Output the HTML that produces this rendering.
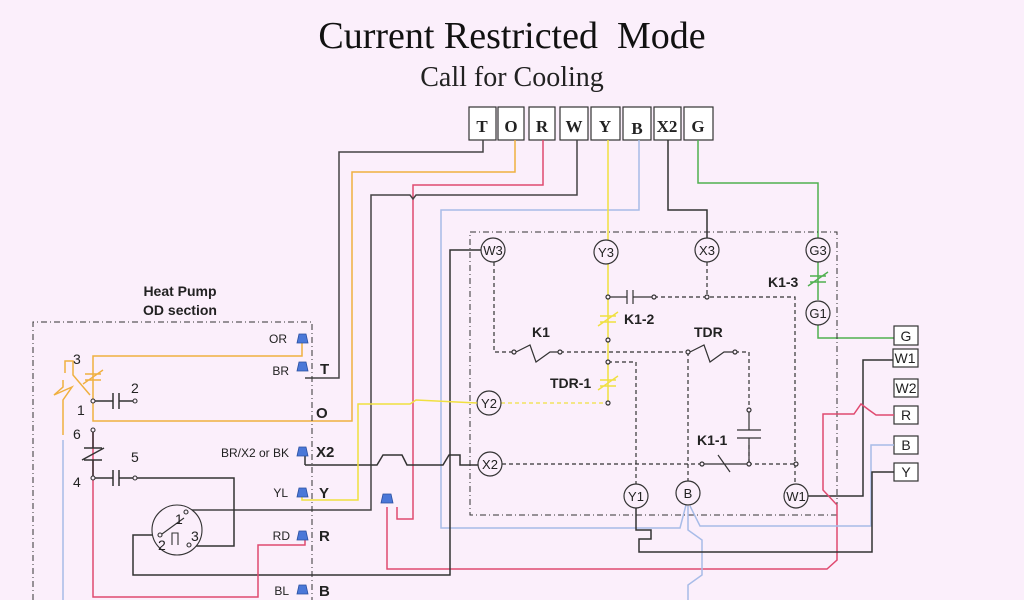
<!DOCTYPE html>
<html><head><meta charset="utf-8"><style>
html,body{margin:0;padding:0;background:#fbeffb;}
svg{display:block}
text{font-family:"Liberation Sans",sans-serif;}
text.serif{font-family:"Liberation Serif",serif;}
</style></head><body>
<svg width="1024" height="600" viewBox="0 0 1024 600" xmlns="http://www.w3.org/2000/svg">
<rect width="1024" height="600" fill="#fbeffb"/>
<text class="serif" x="512" y="48" text-anchor="middle" font-size="38" fill="#111">Current Restricted&#160; Mode</text>
<text class="serif" x="512" y="86" text-anchor="middle" font-size="28" fill="#222">Call for Cooling</text>

<!-- top terminal boxes -->
<g stroke="#333" stroke-width="1.2" fill="#fff">
<rect x="469" y="107" width="27" height="33"/><rect x="498" y="107" width="26" height="33"/>
<rect x="529" y="107" width="26" height="33"/><rect x="560" y="107" width="28" height="33"/>
<rect x="591" y="107" width="29" height="33"/><rect x="623" y="107" width="28" height="33"/>
<rect x="654" y="107" width="27" height="33"/><rect x="684" y="107" width="29" height="33"/>
</g>
<g font-weight="bold" font-size="17" fill="#222" text-anchor="middle">
<text class="serif" x="482" y="132">T</text><text class="serif" x="511" y="132">O</text><text class="serif" x="542" y="132">R</text><text class="serif" x="574" y="132">W</text>
<text class="serif" x="605" y="132">Y</text><text class="serif" x="637" y="134">B</text><text class="serif" x="667" y="132">X2</text><text class="serif" x="698" y="132">G</text>
</g>

<!-- wires from top -->
<g fill="none" stroke-width="1.5">
<path d="M483 140V152H339V378H305" stroke="#444"/>
<path d="M515 140V172H352V421H93V356H302V340" stroke="#f0b040"/>
<path d="M543 140V185H413V519H397V507" stroke="#e04a70"/>
<path d="M577 140V195H416L413 199L410 195H371V510H185" stroke="#444"/>
<path d="M639 140V210H441V528H680L686 505" stroke="#a8bce8"/>
<path d="M608 140V240" stroke="#f0e040"/>
<path d="M668 140V210H707V238" stroke="#333"/>
<path d="M698 140V183H818V238" stroke="#50b050"/>
<path d="M818 262V300M818 325V338H895" stroke="#50b050"/>
</g>

<!-- inner dashed box -->
<rect x="470" y="232" width="367" height="283" fill="none" stroke="#333" stroke-dasharray="6,3,1,3" stroke-width="1"/>
<!-- left dashed box -->
<path d="M33 600V322H312V600" fill="none" stroke="#333" stroke-dasharray="6,3,1,3" stroke-width="1"/>

<!-- inner dashed connections -->
<g fill="none" stroke="#333" stroke-width="1.2" stroke-dasharray="4,3">
<path d="M494 262V352H514M560 352H688M735 352H749V410"/>
<path d="M654 297H795V484"/>
<path d="M707 262V297"/>
<path d="M608 362H636V484"/>
<path d="M688 352V481"/>
<path d="M502 464H702M748 464H796"/>
<path d="M749 445V464"/>
</g>
<path d="M501 403H608" stroke="#f0e040" stroke-width="1.2" stroke-dasharray="4,3"/>
<path d="M608 264V403" stroke="#f0e040" stroke-width="1.5"/>
<g stroke="#333" stroke-width="1.2" fill="#fbeffb">
<path d="M608 297H627M627 290V304M633 290V304M633 297H654"/>
<circle cx="608" cy="297" r="2"/><circle cx="654" cy="297" r="2"/><circle cx="707" cy="297" r="2"/>
<circle cx="608" cy="340" r="2"/><circle cx="608" cy="362" r="2"/><circle cx="608" cy="403" r="2"/>
<path d="M516 352L530 345L536 362L550 352H558" fill="none"/>
<circle cx="514" cy="352" r="2"/><circle cx="560" cy="352" r="2"/>
<path d="M690 352L704 345L710 362L724 352H733" fill="none"/>
<circle cx="688" cy="352" r="2"/><circle cx="735" cy="352" r="2"/>
<circle cx="749" cy="410" r="2"/>
<path d="M749 412V430M737 430H761M737 438H761M749 438V464" fill="none"/>
<path d="M704 464H748M718 455L730 472" fill="none"/>
<circle cx="702" cy="464" r="2"/><circle cx="749" cy="464" r="2"/><circle cx="796" cy="464" r="2"/>
</g>
<g stroke="#f0e040" stroke-width="1.4"><path d="M600 316L616 316M600 322L616 322M598 326L618 312M600 380H616M600 386H616M598 390L618 376"/></g>
<g stroke="#50b050" stroke-width="1.4"><path d="M810 276H826M810 282H826M808 286L828 272"/></g>

<!-- circles -->
<g fill="#fbeffb" stroke="#333" stroke-width="1.2">
<circle cx="493" cy="250" r="12"/><circle cx="606" cy="252" r="12"/><circle cx="707" cy="250" r="12"/>
<circle cx="818" cy="250" r="12"/><circle cx="818" cy="313" r="12"/><circle cx="489" cy="403" r="12"/>
<circle cx="490" cy="464" r="12"/><circle cx="636" cy="496" r="12"/><circle cx="688" cy="493" r="12"/>
<circle cx="796" cy="496" r="12"/>
</g>
<g font-size="13" fill="#222" text-anchor="middle">
<text x="493" y="255">W3</text><text x="606" y="257">Y3</text><text x="707" y="255">X3</text><text x="818" y="255">G3</text>
<text x="818" y="318">G1</text><text x="489" y="408">Y2</text><text x="490" y="469">X2</text><text x="636" y="501">Y1</text>
<text x="688" y="498">B</text><text x="796" y="501">W1</text>
</g>
<g font-size="14" font-weight="bold" fill="#222">
<text x="768" y="287">K1-3</text><text x="624" y="324">K1-2</text><text x="532" y="337">K1</text>
<text x="694" y="337">TDR</text><text x="550" y="388">TDR-1</text><text x="697" y="445">K1-1</text>
</g>

<!-- right terminals -->
<g stroke="#333" stroke-width="1.2" fill="#fff">
<rect x="894" y="326" width="24" height="19"/><rect x="893" y="349" width="25" height="18"/>
<rect x="894" y="379" width="24" height="18"/><rect x="894" y="406" width="24" height="18"/>
<rect x="894" y="436" width="24" height="18"/><rect x="894" y="463" width="24" height="18"/>
</g>
<g font-size="14" fill="#222" text-anchor="middle">
<text x="906" y="341">G</text><text x="905" y="363">W1</text><text x="906" y="393">W2</text>
<text x="906" y="420">R</text><text x="906" y="450">B</text><text x="906" y="477">Y</text>
</g>
<g fill="none" stroke-width="1.5">
<path d="M808 496H863V360H893" stroke="#333"/>
<path d="M894 415H876L869 410L861 404L854 414H823V490L837 505V560L827 569H387V507" stroke="#e04a70"/>
<path d="M894 445H871V526H700L690 506M688 506V530L702 540V575L688 585V600" stroke="#a8bce8"/>
<path d="M894 472H872V552H639V539H651V530H636V508" stroke="#333"/>
</g>

<!-- left section wires -->
<g fill="none" stroke-width="1.5">
<path d="M305 465V455M305 465H377L383 455L402 455L407 465H443L449 455H460V465H478" stroke="#333"/>
<path d="M481 250H450V575H133V535H158" stroke="#333"/>
<path d="M135 478H234V546H189" stroke="#333"/>
<path d="M93 430V597H258V545H305V538" stroke="#e04a70"/>
<path d="M302 492V500H358V404H410L416 400L477 403" stroke="#f0e040"/>
<path d="M63 440V600" stroke="#a8bce8"/>
<path d="M65 373V361H73V375L90 395M63 380V387L54 395L72 387L63 400V435" stroke="#f0b040"/>
<path d="M93 401H113M113 393V409M119 393V409M119 401H135" stroke="#333"/>
<path d="M93 432V448M84 448H102M82 460L104 448M84 460H102M93 460V478H113M113 470V486M119 470V486M119 478H135" stroke="#333"/>
</g>
<g stroke="#f0b040" stroke-width="1.4"><path d="M85 374H101M85 380H101M83 384L103 370"/></g>
<g fill="#fbeffb" stroke="#333" stroke-width="1.1">
<circle cx="93" cy="401" r="2"/><circle cx="135" cy="401" r="2"/><circle cx="93" cy="430" r="2"/>
<circle cx="93" cy="478" r="2"/><circle cx="135" cy="478" r="2"/>
<circle cx="177" cy="530" r="25"/>
<circle cx="160" cy="535" r="2"/><circle cx="189" cy="545" r="2"/><circle cx="186" cy="512" r="2"/>
<path d="M162 534L184 518M172 545V533H178V545" fill="none"/>
</g>
<g font-size="14" fill="#222">
<text x="73" y="364">3</text><text x="131" y="393">2</text><text x="77" y="415">1</text>
<text x="73" y="439">6</text><text x="131" y="462">5</text><text x="73" y="487">4</text>
<text x="175" y="524">1</text><text x="158" y="550">2</text><text x="191" y="541">3</text>
</g>
<text x="180" y="296" text-anchor="middle" font-size="14" font-weight="bold" fill="#222">Heat Pump</text>
<text x="180" y="315" text-anchor="middle" font-size="14" font-weight="bold" fill="#222">OD section</text>

<g fill="#4a78d8" stroke="#2a50a0" stroke-width="0.8">
<path d="M297 343L299 334H306L308 343Z"/><path d="M297 371L299 362H306L308 371Z"/>
<path d="M297 456L299 447H306L308 456Z"/><path d="M297 497L299 488H306L308 497Z"/>
<path d="M297 540L299 531H306L308 540Z"/><path d="M297 594L299 585H306L308 594Z"/>
<path d="M381 503L383 494H391L393 503Z"/>
</g>
<g font-size="12" fill="#222" text-anchor="end">
<text x="287" y="343">OR</text><text x="289" y="375">BR</text><text x="289" y="457">BR/X2 or BK</text>
<text x="288" y="497">YL</text><text x="290" y="540">RD</text><text x="289" y="595">BL</text>
</g>
<g font-size="15" font-weight="bold" fill="#222">
<text x="320" y="374">T</text><text x="316" y="418">O</text><text x="316" y="457">X2</text>
<text x="319" y="498">Y</text><text x="319" y="541">R</text><text x="319" y="596">B</text>
</g>
</svg>
</body></html>
